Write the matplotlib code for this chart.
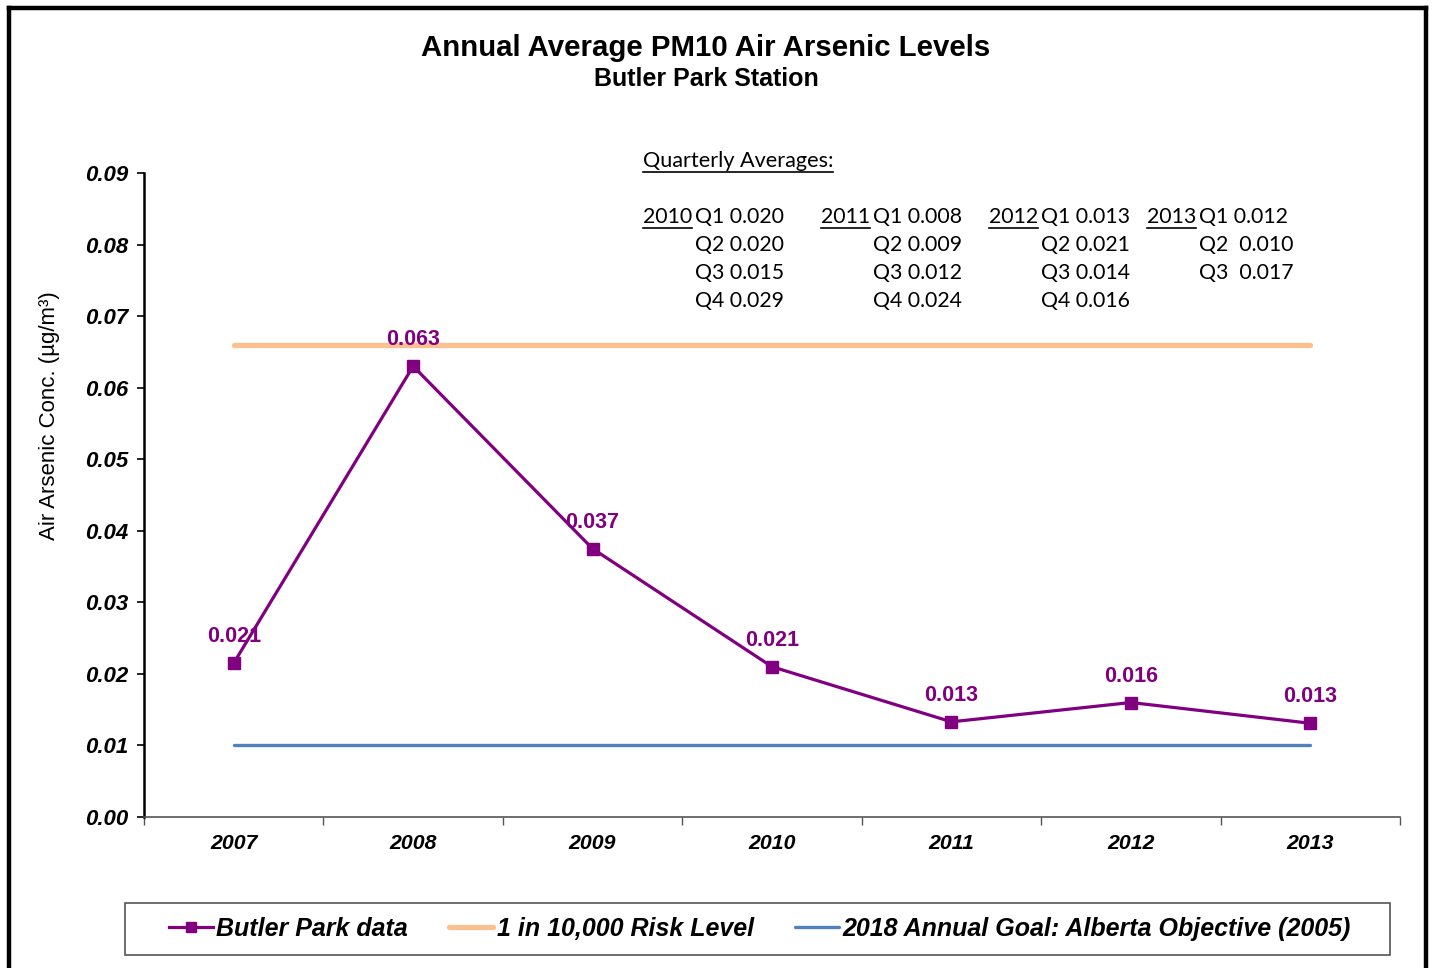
import matplotlib as mpl; mpl.use("Agg")
import matplotlib.pyplot as plt
from matplotlib.lines import Line2D
from matplotlib.patches import Rectangle

# Data
years = ["2007", "2008", "2009", "2010", "2011", "2012", "2013"]
butler_park = [0.0215, 0.0630, 0.0375, 0.0210, 0.0133, 0.0160, 0.0131]
butler_labels = ["0.021", "0.063", "0.037", "0.021", "0.013", "0.016", "0.013"]
risk_level = [0.066, 0.066, 0.066, 0.066, 0.066, 0.066, 0.066]
annual_goal = [0.010, 0.010, 0.010, 0.010, 0.010, 0.010, 0.010]
y_ticks = [0.00, 0.01, 0.02, 0.03, 0.04, 0.05, 0.06, 0.07, 0.08, 0.09]

q_years = ["2010", "2011", "2012", "2013"]
q_lines = [
    ["Q1 0.020", "Q2 0.020", "Q3 0.015", "Q4 0.029"],
    ["Q1 0.008", "Q2 0.009", "Q3 0.012", "Q4 0.024"],
    ["Q1 0.013", "Q2 0.021", "Q3 0.014", "Q4 0.016"],
    ["Q1 0.012", "Q2  0.010", "Q3  0.017"],
]

PURPLE = "#800080"
ORANGE = "#FAC090"
BLUE = "#4F81BD"
W, H = 1432, 968

plt.rcParams["font.family"] = ["Liberation Sans", "DejaVu Sans"]

fig = plt.figure(figsize=(W / 100, H / 100), dpi=100)
ax = fig.add_axes([144 / W, 1 - 817 / H, (1400 - 144) / W, (817 - 173) / H])

x = list(range(len(years)))
ax.plot(x, risk_level, color=ORANGE, lw=3.8, solid_capstyle="round",
        label="1 in 10,000 Risk Level", zorder=2)
ax.plot(x, annual_goal, color=BLUE, lw=2.4, solid_capstyle="round",
        label="2018 Annual Goal: Alberta Objective (2005)", zorder=2)
ax.plot(x, butler_park, color=PURPLE, lw=2.3, marker="s", ms=8,
        label="Butler Park data", zorder=3)

for xi, yi, lab in zip(x, butler_park, butler_labels):
    ax.annotate(lab, (xi, yi), xytext=(0, 19), textcoords="offset points",
                ha="center", va="center", color=PURPLE, fontsize=15.5,
                fontweight="bold", zorder=4)

ax.set_xlim(-0.5, 6.5)
ax.set_ylim(0, 0.09)
ax.set_yticks(y_ticks)
ax.set_yticklabels([f"{v:.2f}" for v in y_ticks], fontsize=16,
                   fontweight="bold", fontstyle="italic")
ax.set_xticks(x)
ax.set_xticklabels(years, fontsize=15.3, fontweight="bold", fontstyle="italic")
ax.set_xticks([i - 0.5 for i in range(len(years) + 1)], minor=True)
ax.tick_params(axis="x", which="major", length=0, pad=12)
ax.tick_params(axis="x", which="minor", length=6, width=1, color="#555555",
               direction="out")
ax.tick_params(axis="y", length=5, width=1.2, direction="out", pad=6)
ax.spines["top"].set_visible(False)
ax.spines["right"].set_visible(False)
ax.spines["left"].set_linewidth(1.8)
ax.spines["bottom"].set_color("#555555")
ax.spines["bottom"].set_linewidth(1.2)
ax.set_ylabel("Air Arsenic Conc. (µg/m³)", fontsize=16)
ax.yaxis.set_label_coords(-(144 - 60) / (1400 - 144), 0.624)

# titles
fig.text(706 / W, 1 - 48 / H, "Annual Average PM10 Air Arsenic Levels",
         ha="center", va="center", fontsize=21.2, fontweight="bold")
fig.text(706 / W, 1 - 79 / H, "Butler Park Station",
         ha="center", va="center", fontsize=18, fontweight="bold")

# quarterly averages box
qfont = ["Lato", "DejaVu Sans"]
fig.canvas.draw()
renderer = fig.canvas.get_renderer()


def underlined(px, py, s, size):
    t = fig.text(px / W, 1 - py / H, s, ha="left", va="center",
                 fontsize=size, family=qfont)
    bb = t.get_window_extent(renderer=renderer)
    yl = (bb.y0 - 1) / H
    fig.add_artist(Line2D([bb.x0 / W, bb.x1 / W], [yl, yl], color="black",
                          lw=1.2))
    return bb


underlined(643, 161, "Quarterly Averages:", 15.6)
col_x = [643, 821, 989, 1147]
row_y = [217, 245, 273, 301]
for cx, yr, lines in zip(col_x, q_years, q_lines):
    bb = underlined(cx, row_y[0], yr, 15.3)
    qx = bb.x1 + 3
    for ry, s in zip(row_y, lines):
        fig.text(qx / W, 1 - ry / H, s, ha="left", va="center",
                 fontsize=15.3, family=qfont)

# legend (frame drawn separately)
fig.add_artist(Rectangle((125 / W, 1 - 955 / H), (1390 - 125) / W, 52 / H,
                         transform=fig.transFigure, fill=False,
                         edgecolor="#555555", lw=1.2))
leg = fig.legend(
    handles=[ax.lines[2], ax.lines[0], ax.lines[1]],
    loc="center", bbox_to_anchor=(760 / W, 1 - 929 / H),
    ncol=3, frameon=False, handlelength=1.75, markerscale=0.85,
    handletextpad=0.15, columnspacing=1.65, borderpad=0, borderaxespad=0,
    prop={"size": 18, "weight": "bold", "style": "italic"},
)

# outer frame
for xs, ys in [([9 / W, 9 / W], [0, 1 - 8 / H]),
               ([1426 / W, 1426 / W], [0, 1 - 8 / H]),
               ([9 / W, 1426 / W], [1 - 8 / H, 1 - 8 / H])]:
    fig.add_artist(Line2D(xs, ys, color="black", lw=3.2))

fig.savefig("out.png", dpi=100)
